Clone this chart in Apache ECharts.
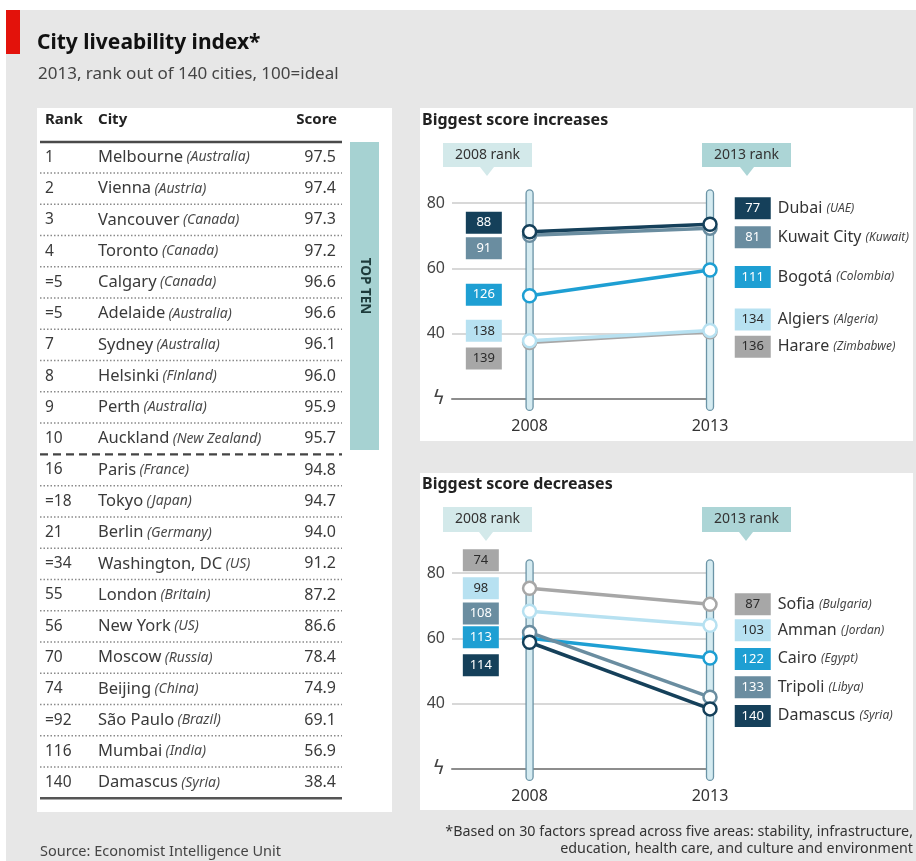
<!DOCTYPE html>
<html>
<head>
<meta charset="utf-8">
<title>City liveability index</title>
<script src="https://cdn.jsdelivr.net/npm/echarts@6.0.0/dist/echarts.min.js"></script>
<style>
html,body{margin:0;padding:0;background:#fff;}
#main{width:916px;height:861px;}
</style>
</head>
<body>
<div id="main"></div>
<script>
var FONT = '"Noto Sans", "Open Sans", sans-serif';

// ranking table
var tableRanks = ['1','2','3','4','=5','=5','7','8','9','10','16','=18','21','=34','55','56','70','74','=92','116','140'];
var tableCities = ['Melbourne','Vienna','Vancouver','Toronto','Calgary','Adelaide','Sydney','Helsinki','Perth','Auckland',
	'Paris','Tokyo','Berlin','Washington, DC','London','New York','Moscow','Beijing','São Paulo','Mumbai','Damascus'];
var tableCountries = ['Australia','Austria','Canada','Canada','Canada','Australia','Australia','Finland','Australia','New Zealand',
	'France','Japan','Germany','US','Britain','US','Russia','China','Brazil','India','Syria'];
var tableScores = [97.5,97.4,97.3,97.2,96.6,96.6,96.1,96.0,95.9,95.7,94.8,94.7,94.0,91.2,87.2,86.6,78.4,74.9,69.1,56.9,38.4];

var years = [2008, 2013];

// biggest score increases
var incCities = ['Dubai','Kuwait City','Bogotá','Algiers','Harare'];
var incCountries = ['UAE','Kuwait','Colombia','Algeria','Zimbabwe'];
var incRank2008 = [88,91,126,138,139];
var incRank2013 = [77,81,111,134,136];
var incScore2008 = [71.2,70.1,51.6,37.8,37.3];
var incScore2013 = [73.5,72.3,59.5,41.0,40.6];

// biggest score decreases
var decCities = ['Sofia','Amman','Cairo','Tripoli','Damascus'];
var decCountries = ['Bulgaria','Jordan','Egypt','Libya','Syria'];
var decRank2008 = [74,98,113,108,114];
var decRank2013 = [87,103,122,133,140];
var decScore2008 = [75.3,68.3,60.0,61.8,58.8];
var decScore2013 = [70.4,64.0,54.0,42.0,38.4];

var navy='#15405a', slate='#6a8da0', cyan='#1e9fd3', pale='#b7e1f1', grey='#a7a7a7';
var incColors = [navy, slate, cyan, pale, grey];
var decColors = [grey, pale, cyan, slate, navy];

// label nudges so the rank boxes don't sit on top of each other
var incLeftDy = [-9, 13, -1, -10, 16];
var incRightDy = [-16, 9, 7, -11, 15];
var decLeftDy = [-28, -23, -1, -19, 23];
var decRightDy = [0, 5, 1, -10, 7];

window.onload = function(){ init(); };

function init(){
	var chart = echarts.init(document.getElementById('main'), null, {renderer:'canvas'});
	chart.setOption(buildOption());
}

function boxStyle(bg, fg){
	return {width:36, height:22, lineHeight:22, align:'center', verticalAlign:'middle',
		backgroundColor:bg, color:fg, fontSize:13, fontFamily:FONT};
}

function lineSeries(g, cities, countries, r08, r13, s08, s13, cols, lDy, rDy, lDist, order){
	var out = [];
	order.forEach(function(i, k){
		var col = cols[i];
		var fg = (col==pale || col==grey) ? '#2b2b2b' : '#ffffff';
		out.push({
			type:'line', name:cities[i], xAxisIndex:g, yAxisIndex:g, z:3+k,
			clip:false, silent:true, animation:false,
			symbol:'circle', symbolSize:13,
			lineStyle:{color:col, width:3.5},
			itemStyle:{color:'#ffffff', borderColor:col, borderWidth:2.5},
			data:[
				{value:[years[0], s08[i]], label:{show:true, position:'left', distance:lDist, offset:[0, lDy[i]],
					formatter:'{b|'+r08[i]+'}', rich:{b:boxStyle(col, fg)}}},
				{value:[years[1], s13[i]], label:{show:true, position:'right', distance:17, offset:[0, rDy[i]],
					formatter:'{b|'+r13[i]+'}{n|'+cities[i]+' }{k|('+countries[i]+')}',
					rich:{
						b:boxStyle(col, fg),
						n:{fontSize:16, color:'#333', fontFamily:FONT, padding:[0,0,0,7], verticalAlign:'middle'},
						k:{fontSize:12, color:'#444', fontStyle:'italic', fontFamily:FONT, verticalAlign:'middle'}
					}}}
			]
		});
	});
	return out;
}

// the two upright bars at 2008 and 2013
function columnSeries(g){
	return {
		type:'custom', xAxisIndex:g, yAxisIndex:g, z:2, clip:false, silent:true, animation:false,
		data: years.map(function(y){ return [y, 50]; }),
		renderItem:function(params, api){
			var top = api.coord([api.value(0), 84]);
			var bot = api.coord([api.value(0), 16.5]);
			return {type:'rect', shape:{x:top[0]-3.5, y:top[1], width:7, height:bot[1]-top[1], r:3.5},
				style:{fill:'#d5ebf1', stroke:'#6b94a6', lineWidth:1.3}};
		}
	};
}

function tableSeries(){
	return {
		type:'custom', xAxisIndex:2, yAxisIndex:2, z:2, silent:true, animation:false,
		data: tableRanks.map(function(r, i){ return [0, i]; }),
		renderItem:function(params, api){
			var i = params.dataIndex;
			var c = api.coord([0, i]);
			var band = api.size([0, 1])[1];
			var x0 = c[0], y = c[1];
			var sep;
			if(i==9){
				sep = {stroke:'#444', lineWidth:2.2, lineDash:[8,5]};
			}else if(i==tableRanks.length-1){
				sep = {stroke:'#555', lineWidth:2.5};
			}else{
				sep = {stroke:'#8a8a8a', lineWidth:1.5, lineDash:[1.5,2]};
			}
			return {type:'group', children:[
				{type:'text', x:x0+8, y:y, style:{text:tableRanks[i], fill:'#3a3a3a', fontSize:15.5, fontFamily:FONT,
					align:'left', verticalAlign:'middle', textAlign:'left', textVerticalAlign:'middle'}},
				{type:'text', x:x0+61, y:y, style:{text:'{c|'+tableCities[i]+'} {k|('+tableCountries[i]+')}',
					align:'left', verticalAlign:'middle', textAlign:'left', textVerticalAlign:'middle',
					rich:{c:{fontSize:16.5, fill:'#3a3a3a', fontFamily:FONT, verticalAlign:'middle'},
						k:{fontSize:14, fill:'#4a4a4a', fontStyle:'italic', fontFamily:FONT, verticalAlign:'middle'}}}},
				{type:'text', x:x0+299, y:y, style:{text:tableScores[i].toFixed(1), fill:'#3a3a3a', fontSize:16, fontFamily:FONT,
					align:'right', verticalAlign:'middle', textAlign:'right', textVerticalAlign:'middle'}},
				{type:'line', shape:{x1:x0+3, y1:y+band/2, x2:x0+305, y2:y+band/2}, style:sep}
			]};
		}
	};
}

function chartX(g){
	return {type:'value', gridIndex:g, min:2005.85, max:2013, interval:1,
		splitLine:{show:false}, axisTick:{show:false},
		axisLine:{onZero:false, lineStyle:{color:'#8d8d8d', width:2}},
		axisLabel:{customValues:years, margin:19, fontSize:16, color:'#333', fontFamily:FONT,
			formatter:function(v){ return (v==2008 || v==2013) ? String(v) : ''; }}};
}

function chartY(g){
	return {type:'value', gridIndex:g, min:20, max:80, interval:20,
		axisLine:{show:false}, axisTick:{show:false},
		splitLine:{lineStyle:{color:'#cbcbcb', width:1.5}},
		axisLabel:{margin:7, fontSize:16, color:'#444', fontFamily:FONT,
			rich:{z:{fontSize:19, color:'#444', fontFamily:'DejaVu Sans'}},
			formatter:function(v){ return v==20 ? '{z|ϟ}' : String(v); }}};
}

function txt(x, y, s, font, fill, align){
	return {type:'text', x:x, y:y, style:{text:s, font:font, fill:fill||'#333',
		align:align||'left', verticalAlign:'middle', textAlign:align||'left', textVerticalAlign:'middle'}};
}

function rankTag(x, y, w, h, px, fill, label){
	return {type:'group', children:[
		{type:'rect', shape:{x:x, y:y, width:w, height:h}, style:{fill:fill}},
		{type:'polygon', shape:{points:[[px-7,y+h],[px+7,y+h],[px,y+h+9]]}, style:{fill:fill}},
		txt(x+w/2, y+h/2, label, '14px '+FONT, '#333', 'center')
	]};
}

function buildOption(){
	var graphic = [
		{type:'rect', z:-20, shape:{x:6, y:10, width:910, height:851}, style:{fill:'#e7e7e7'}},
		{type:'rect', z:-19, shape:{x:6, y:10, width:14, height:44}, style:{fill:'#e3120b'}},
		{type:'rect', z:-18, shape:{x:37, y:108, width:355, height:704}, style:{fill:'#ffffff'}},
		{type:'rect', z:-18, shape:{x:420, y:108, width:493, height:333}, style:{fill:'#ffffff'}},
		{type:'rect', z:-18, shape:{x:420, y:473, width:493, height:337}, style:{fill:'#ffffff'}},
		txt(37, 43, 'City liveability index*', 'bold 21px '+FONT, '#111'),
		txt(38, 74, '2013, rank out of 140 cities, 100=ideal', '17px '+FONT, '#444'),
		// table header
		txt(45, 120, 'Rank', 'bold 15px '+FONT, '#222'),
		txt(98, 120, 'City', 'bold 15px '+FONT, '#222'),
		txt(337, 120, 'Score', 'bold 15px '+FONT, '#222', 'right'),
		{type:'line', shape:{x1:40, y1:142, x2:342, y2:142}, style:{stroke:'#4a4a4a', lineWidth:2.5}},
		{type:'rect', shape:{x:350, y:142, width:29, height:308}, style:{fill:'#a6d2d2'}},
		{type:'text', x:364.5, y:286, rotation:-Math.PI/2,
			style:{text:'TOP TEN', font:'bold 13.5px '+FONT, fill:'#1d3b3b', align:'center', verticalAlign:'middle',
				textAlign:'center', textVerticalAlign:'middle'}},
		// right-hand panels
		txt(422, 120, 'Biggest score increases', 'bold 16px '+FONT, '#222'),
		rankTag(443, 143, 89, 24, 487, '#d3e9ea', '2008 rank'),
		rankTag(702, 143, 89, 24, 747, '#acd5d6', '2013 rank'),
		txt(422, 484, 'Biggest score decreases', 'bold 16px '+FONT, '#222'),
		rankTag(443, 507, 89, 25, 486, '#d3e9ea', '2008 rank'),
		rankTag(702, 507, 89, 25, 746, '#acd5d6', '2013 rank'),
		txt(913, 832, '*Based on 30 factors spread across five areas: stability, infrastructure,', '14.3px '+FONT, '#333', 'right'),
		txt(913, 849, 'education, health care, and culture and environment', '14.3px '+FONT, '#333', 'right'),
		txt(40, 852, 'Source: Economist Intelligence Unit', '14.5px '+FONT, '#444')
	];

	var series = [columnSeries(0), columnSeries(1), tableSeries()];
	series = series.concat(lineSeries(0, incCities, incCountries, incRank2008, incRank2013, incScore2008, incScore2013,
		incColors, incLeftDy, incRightDy, 20, [4,3,2,1,0]));
	series = series.concat(lineSeries(1, decCities, decCountries, decRank2008, decRank2013, decScore2008, decScore2013,
		decColors, decLeftDy, decRightDy, 23, [0,1,2,3,4]));

	return {
		animation:false,
		backgroundColor:'#ffffff',
		textStyle:{fontFamily:FONT},
		graphic:graphic,
		grid:[
			{left:452, top:203, width:258, height:196},
			{left:452, top:573, width:258, height:196},
			{left:37, top:141.7, width:355, height:656.6}
		],
		xAxis:[chartX(0), chartX(1), {type:'value', gridIndex:2, min:0, max:355, show:false}],
		yAxis:[chartY(0), chartY(1), {type:'category', gridIndex:2, inverse:true, show:false,
			data:tableRanks.map(function(r, i){ return i; })}],
		series:series
	};
}
</script>
</body>
</html>
